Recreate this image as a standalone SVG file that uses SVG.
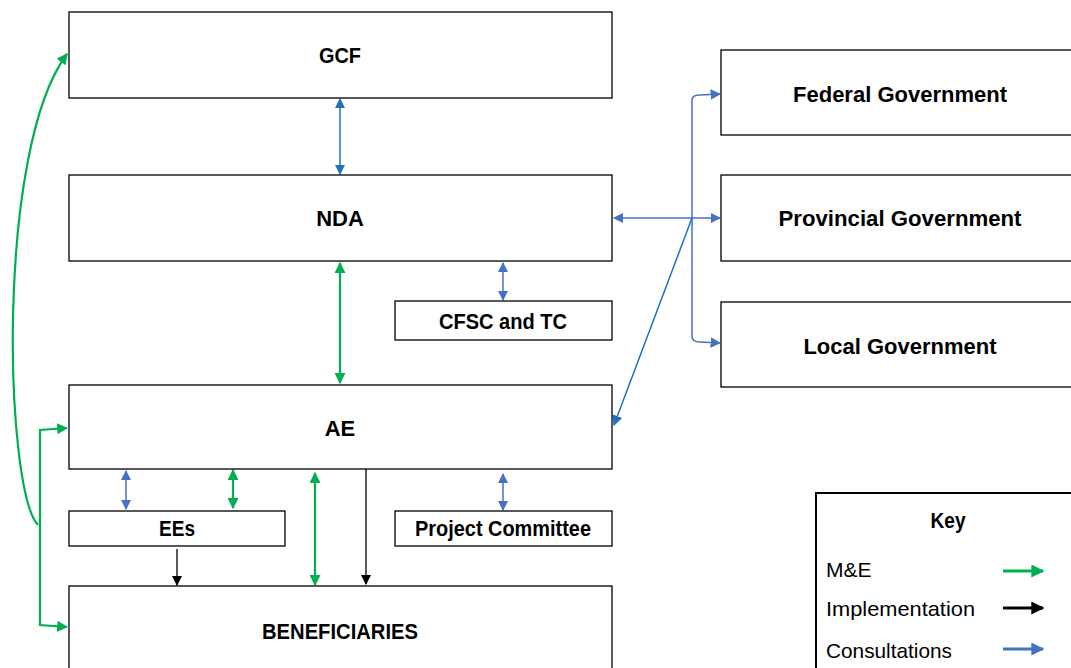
<svg xmlns="http://www.w3.org/2000/svg" width="1071" height="668" viewBox="0 0 1071 668">
<defs>
<style>
.box{fill:#fff;stroke:#000;stroke-width:1.3}
.lbl{font-family:"Liberation Sans",Arial,sans-serif;font-weight:bold;font-size:22px;fill:#000;text-anchor:middle;dominant-baseline:central}
.key{font-family:"Liberation Sans",Arial,sans-serif;font-size:21px;fill:#000;dominant-baseline:central}
.g{fill:none;stroke:#00B050;stroke-width:2.2}
.b{fill:none;stroke:#4472C4;stroke-width:1.5}
.bd{fill:none;stroke:#1F70C1;stroke-width:1.5}
.k{fill:none;stroke:#000;stroke-width:1.3}
.kl{fill:none;stroke-width:3}
</style>
<marker id="ag" viewBox="0 0 10 10" refX="9" refY="5" markerWidth="5" markerHeight="5" orient="auto-start-reverse" markerUnits="strokeWidth"><path d="M0,0 L10,5 L0,10 z" fill="#00B050"/></marker>
<marker id="ab" viewBox="0 0 10 10" refX="9" refY="5" markerWidth="7" markerHeight="7" orient="auto-start-reverse" markerUnits="strokeWidth"><path d="M0,0 L10,5 L0,10 z" fill="#4472C4"/></marker>
<marker id="abd" viewBox="0 0 10 10" refX="9" refY="5" markerWidth="7" markerHeight="7" orient="auto-start-reverse" markerUnits="strokeWidth"><path d="M0,0 L10,5 L0,10 z" fill="#1F70C1"/></marker>
<marker id="ak" viewBox="0 0 10 10" refX="9" refY="5" markerWidth="8" markerHeight="8" orient="auto-start-reverse" markerUnits="strokeWidth"><path d="M0,0 L10,5 L0,10 z" fill="#000"/></marker>
<marker id="kg" viewBox="0 0 10 10" refX="9" refY="5" markerWidth="13" markerHeight="13" orient="auto" markerUnits="userSpaceOnUse"><path d="M0,0 L10,5 L0,10 z" fill="#00B050"/></marker>
<marker id="kk" viewBox="0 0 10 10" refX="9" refY="5" markerWidth="13" markerHeight="13" orient="auto" markerUnits="userSpaceOnUse"><path d="M0,0 L10,5 L0,10 z" fill="#000"/></marker>
<marker id="kb" viewBox="0 0 10 10" refX="9" refY="5" markerWidth="13" markerHeight="13" orient="auto" markerUnits="userSpaceOnUse"><path d="M0,0 L10,5 L0,10 z" fill="#4472C4"/></marker>
</defs>
<rect width="1071" height="668" fill="#fff"/>
<g id="connectors">
<line class="bd" x1="340" y1="99" x2="340" y2="174" marker-start="url(#abd)" marker-end="url(#abd)"/>
<line class="g" x1="340" y1="263" x2="340" y2="383" marker-start="url(#ag)" marker-end="url(#ag)"/>
<line class="b" x1="503" y1="263" x2="503" y2="300" marker-start="url(#ab)" marker-end="url(#ab)"/>
<line class="b" x1="614" y1="218" x2="720" y2="218" marker-start="url(#ab)" marker-end="url(#ab)"/>
<path class="b" d="M692 218 L692 100 Q692 95 700 95 L720 94" marker-end="url(#ab)"/>
<path class="b" d="M692 218 L692 336 Q692 342 700 342 L720 343" marker-end="url(#ab)"/>
<line class="bd" x1="692" y1="218" x2="614" y2="425" marker-end="url(#abd)"/>
<path class="g" d="M38 525 C5 490 -5 150 67 54" marker-end="url(#ag)"/>
<path class="g" d="M67 428 L40 430 L40 625 L67 627" marker-start="url(#ag)" marker-end="url(#ag)"/>
<line class="b" x1="126" y1="471" x2="126" y2="509" marker-start="url(#ab)" marker-end="url(#ab)"/>
<line class="g" x1="233" y1="470" x2="233" y2="508" marker-start="url(#ag)" marker-end="url(#ag)"/>
<line class="g" x1="315" y1="473" x2="315" y2="585" marker-start="url(#ag)" marker-end="url(#ag)"/>
<line class="k" x1="366" y1="469" x2="366" y2="584" marker-end="url(#ak)"/>
<line class="k" x1="177" y1="549" x2="177" y2="585" marker-end="url(#ak)"/>
<line class="b" x1="503" y1="474" x2="503" y2="510" marker-start="url(#ab)" marker-end="url(#ab)"/>
</g>
<g id="gcf"><rect class="box" x="69" y="12" width="543" height="86"/><text class="lbl" x="340" y="55" textLength="42" lengthAdjust="spacingAndGlyphs">GCF</text></g>
<g id="nda"><rect class="box" x="69" y="175" width="543" height="86"/><text class="lbl" x="340" y="218">NDA</text></g>
<g id="cfsc"><rect class="box" x="395" y="301" width="217" height="39"/><text class="lbl" x="503" y="321" textLength="128" lengthAdjust="spacingAndGlyphs">CFSC and TC</text></g>
<g id="ae"><rect class="box" x="69" y="385" width="543" height="84"/><text class="lbl" x="340" y="428">AE</text></g>
<g id="ees"><rect class="box" x="69" y="511" width="216" height="35"/><text class="lbl" x="177" y="528" textLength="36" lengthAdjust="spacingAndGlyphs">EEs</text></g>
<g id="pc"><rect class="box" x="395" y="511" width="217" height="35"/><text class="lbl" x="503" y="528" textLength="176" lengthAdjust="spacingAndGlyphs">Project Committee</text></g>
<g id="ben"><rect class="box" x="69" y="586" width="543" height="90"/><text class="lbl" x="340" y="631" textLength="156" lengthAdjust="spacingAndGlyphs">BENEFICIARIES</text></g>
<g id="fed"><rect class="box" x="721" y="50" width="360" height="85"/><text class="lbl" x="900" y="94">Federal Government</text></g>
<g id="prov"><rect class="box" x="721" y="175" width="360" height="86"/><text class="lbl" x="900" y="218" textLength="243" lengthAdjust="spacingAndGlyphs">Provincial Government</text></g>
<g id="local"><rect class="box" x="721" y="302" width="360" height="85"/><text class="lbl" x="900" y="346">Local Government</text></g>
<g id="key">
<rect x="816" y="493" width="270" height="190" fill="#fff" stroke="#000" stroke-width="2"/>
<text class="lbl" x="948" y="520" textLength="35" lengthAdjust="spacingAndGlyphs">Key</text>
<text class="key" x="826" y="569">M&amp;E</text>
<text class="key" x="826" y="608" textLength="149" lengthAdjust="spacingAndGlyphs">Implementation</text>
<text class="key" x="826" y="650" textLength="126" lengthAdjust="spacingAndGlyphs">Consultations</text>
<line class="kl" stroke="#00B050" x1="1003" y1="571" x2="1043" y2="571" marker-end="url(#kg)"/>
<line class="kl" stroke="#000" x1="1003" y1="608" x2="1043" y2="608" marker-end="url(#kk)"/>
<line class="kl" stroke="#4472C4" x1="1003" y1="649" x2="1043" y2="649" marker-end="url(#kb)"/>
</g>
</svg>
